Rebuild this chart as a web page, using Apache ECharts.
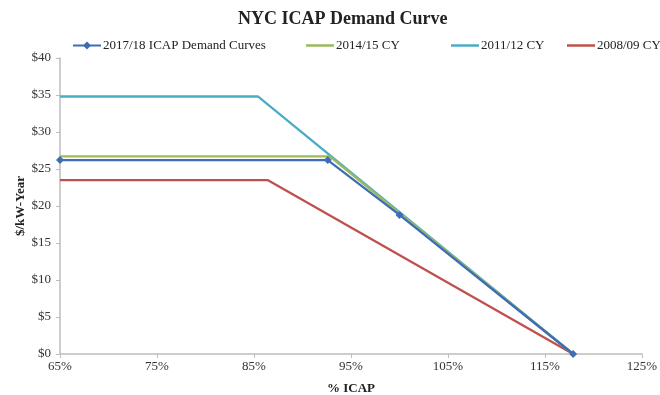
<!DOCTYPE html>
<html><head><meta charset="utf-8">
<script src="https://cdn.jsdelivr.net/npm/echarts@6/dist/echarts.min.js"></script>
<style>html,body{margin:0;padding:0;background:#fff}#c{width:660px;height:395px}</style>
</head><body><div id="c"></div>
<script>
var seriesNames = ['2017/18 ICAP Demand Curves', '2014/15 CY', '2011/12 CY', '2008/09 CY'];
var curve201718 = [[65, 26.2], [92.6, 26.2], [100, 18.8], [117.9, 0]];
var curve201415 = [[65, 26.7], [92.8, 26.7], [117.9, 0]];
var curve201112 = [[65, 34.8], [85.4, 34.8], [117.9, 0]];
var curve200809 = [[65, 23.5], [86.4, 23.5], [117.9, 0]];
var xTicks = [65, 75, 85, 95, 105, 115, 125];
var colors = ['#3F6DB5', '#9BBB59', '#4BACC6', '#C0504D'];
var serif = 'Liberation Serif';
var legendLeft = [67, 301, 446, 562];
var chart = echarts.init(document.getElementById('c'));
function mk(i, data, z, marker) {
  return {
    name: seriesNames[i], type: 'line', data: data, z: z,
    symbol: marker ? 'diamond' : 'none', symbolSize: 8, showSymbol: !!marker,
    lineStyle: {width: 2.3, color: colors[i]}, itemStyle: {color: colors[i]},
    animation: false
  };
}
var legends = seriesNames.map(function (n, i) {
  var lg = {left: legendLeft[i], top: 34, itemWidth: 28, itemHeight: 10, itemGap: 0,
    padding: [5, 0, 5, 5],
    textStyle: {fontFamily: serif, fontSize: 13, color: '#222', padding: [0, 0, 0, -3]},
    data: [n]};
  if (i > 0) { lg.icon = 'rect'; lg.itemHeight = 2.5; }
  return lg;
});
chart.setOption({
  animation: false,
  title: {text: 'NYC ICAP Demand Curve', left: 233, top: 5,
    textStyle: {fontFamily: serif, fontWeight: 'bold', fontSize: 18, color: '#222'}},
  legend: legends,
  grid: {left: 60, right: 18, top: 58, bottom: 41, containLabel: false, outerBoundsMode: 'none'},
  xAxis: {type: 'value', min: 65, max: 125,
    name: '% ICAP', nameLocation: 'middle', nameGap: 28, nameMoveOverlap: false,
    nameTextStyle: {fontFamily: serif, fontWeight: 'bold', fontSize: 13, color: '#222'},
    axisLine: {lineStyle: {color: '#BDBDBD', width: 1.5}},
    axisTick: {show: true, customValues: xTicks, length: 4, lineStyle: {color: '#BDBDBD'}},
    axisLabel: {customValues: xTicks, formatter: '{value}%', fontFamily: serif, fontSize: 13, color: '#333', margin: 6},
    splitLine: {show: false}},
  yAxis: {type: 'value', min: 0, max: 40, interval: 5,
    name: '$/kW-Year', nameLocation: 'middle', nameGap: 33, nameRotate: 90, nameMoveOverlap: false,
    nameTextStyle: {fontFamily: serif, fontWeight: 'bold', fontSize: 13, color: '#222'},
    axisLine: {show: true, lineStyle: {color: '#BDBDBD', width: 1.5}},
    axisTick: {show: true, length: 4, lineStyle: {color: '#BDBDBD'}},
    axisLabel: {formatter: '${value}', fontFamily: serif, fontSize: 13, color: '#333', margin: 9},
    splitLine: {show: false}},
  series: [
    mk(0, curve201718, 5, true),
    mk(1, curve201415, 4, false),
    mk(2, curve201112, 3, false),
    mk(3, curve200809, 2, false)
  ]
});
</script></body></html>
